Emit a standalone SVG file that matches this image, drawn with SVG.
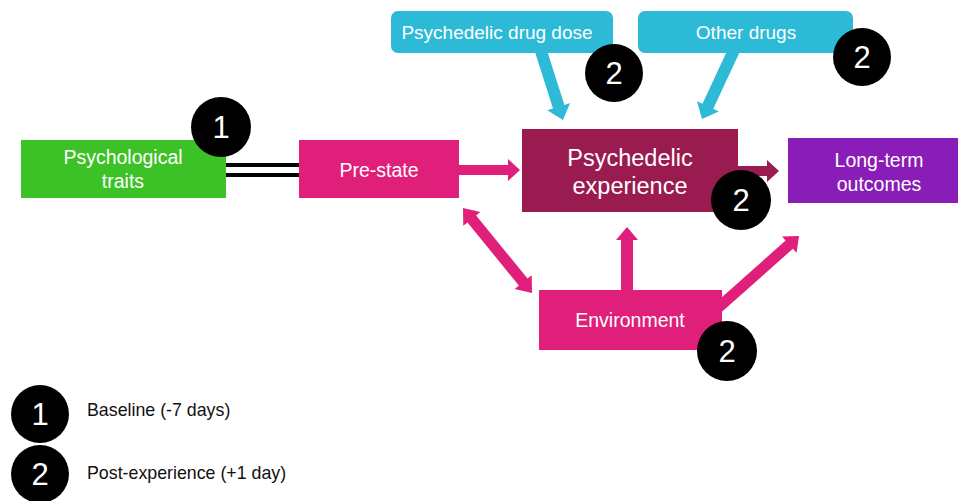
<svg xmlns="http://www.w3.org/2000/svg" width="958" height="501" viewBox="0 0 958 501">
<style>
.t{font-family:"Liberation Sans",Arial,sans-serif;fill:#fff;text-anchor:middle;dominant-baseline:central;font-size:19.5px}
.big{font-size:23.5px}
.sm{font-size:19px}
.n{font-family:"Liberation Sans",Arial,sans-serif;fill:#fff;text-anchor:middle;font-size:31px}
.lg{font-family:"Liberation Sans",Arial,sans-serif;fill:#111;font-size:17.8px;dominant-baseline:central}
.pink{fill:#e01f7a}
.cyan{fill:#2cbad6}
.badge{fill:#000}
</style>
<rect width="958" height="501" fill="#fff"/>
<g id="connectors">
<rect x="226" y="163" width="73" height="4" fill="#000"/>
<rect x="226" y="173" width="73" height="4" fill="#000"/>
<polygon class="pink" points="459,165 508,165 508,159 520,170 508,181 508,175 459,175"/>
<polygon fill="#9a1b4f" points="738,166 767,166 767,160 779,171 767,182 767,176 738,176"/>
<polygon class="pink" points="621,291 621,240 616,240 627,227 638,240 633,240 633,291"/>
<polygon class="pink" points="721.7,312.1 792.9,248.7 796.6,252.8 799,236 782.0,236.4 785.6,240.5 714.3,303.9"/>
<polygon class="pink" points="463,208 480.3,212.0 476.1,215.4 527.5,278.6 531.7,275.2 532,293 514.7,289.0 518.9,285.6 467.5,222.4 463.3,225.8"/>
<polygon class="cyan" points="545.7,46.2 564.4,104.9 570.1,103.0 563,120 547.3,110.3 553.0,108.5 534.3,49.8"/>
<polygon class="cyan" points="740.4,50.5 713.3,108.8 718.8,111.4 702,119 697.0,101.2 702.5,103.8 729.6,45.5"/>
</g>
<g id="psychological-traits">
<rect x="21" y="140" width="205" height="58" fill="#3cc226"/>
<text class="t" x="123" y="157">Psychological</text>
<text class="t" x="123" y="181">traits</text>
</g>
<g id="pre-state">
<rect class="pink" x="299" y="140" width="160" height="58"/>
<text class="t" x="379" y="170">Pre-state</text>
</g>
<g id="psychedelic-experience">
<rect x="522" y="129" width="216" height="83" fill="#9a1b4f"/>
<text class="t big" x="630" y="158">Psychedelic</text>
<text class="t big" x="630" y="186">experience</text>
</g>
<g id="long-term-outcomes">
<rect x="788" y="138" width="170" height="65" fill="#8a1cb8"/>
<text class="t" x="879" y="160">Long-term</text>
<text class="t" x="879" y="184">outcomes</text>
</g>
<g id="environment">
<rect class="pink" x="539" y="290" width="183" height="60"/>
<text class="t" x="630" y="320">Environment</text>
</g>
<g id="psychedelic-drug-dose">
<rect class="cyan" x="391" y="11" width="222" height="42" rx="7"/>
<text class="t sm" x="497" y="32">Psychedelic drug dose</text>
</g>
<g id="other-drugs">
<rect class="cyan" x="638" y="11" width="215" height="42" rx="7"/>
<text class="t sm" x="746" y="32">Other drugs</text>
</g>
<g id="badges">
<circle class="badge" cx="221" cy="127" r="30"/><text class="n" x="221" y="138">1</text>
<circle class="badge" cx="614" cy="73" r="29"/><text class="n" x="614" y="84">2</text>
<circle class="badge" cx="862" cy="57" r="29"/><text class="n" x="862" y="68">2</text>
<circle class="badge" cx="741" cy="200" r="30"/><text class="n" x="741" y="211">2</text>
<circle class="badge" cx="727" cy="351" r="30"/><text class="n" x="727" y="362">2</text>
</g>
<g id="legend">
<circle class="badge" cx="40" cy="414" r="29"/><text class="n" x="40" y="425">1</text>
<circle class="badge" cx="40" cy="474" r="29"/><text class="n" x="40" y="485">2</text>
<text class="lg" x="87" y="410">Baseline (-7 days)</text>
<text class="lg" x="87" y="473">Post-experience (+1 day)</text>
</g>
</svg>
